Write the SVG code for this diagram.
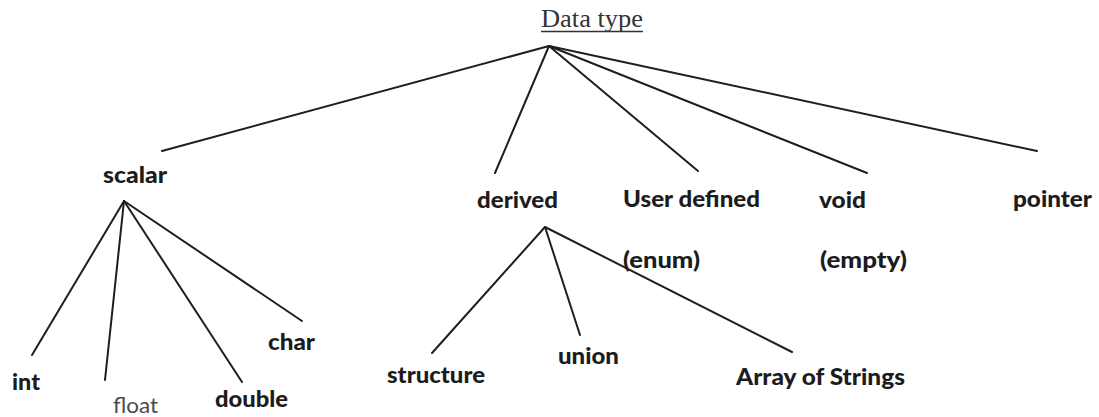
<svg xmlns="http://www.w3.org/2000/svg" width="1099" height="417" viewBox="0 0 1099 417">
  <style>
    .edge { stroke: #1e1e1e; stroke-width: 2; stroke-linecap: round; fill: none; }
    .lbl { font-family: Lato, "Open Sans", sans-serif; font-weight: 900; font-size: 23px; fill: #1c1c1c; }
    .thin { font-family: Lato, "Open Sans", sans-serif; font-weight: normal; font-size: 22px; fill: #4a4a4a; }
    .title { font-family: "Liberation Serif", serif; font-size: 26px; fill: #333333; }
  </style>
  <rect width="1099" height="417" fill="#ffffff"/>

  <!-- tree edges -->
  <g id="connectors">
    <line class="edge" x1="549" y1="46" x2="162" y2="151"/>
    <line class="edge" x1="549" y1="46" x2="495" y2="173"/>
    <line class="edge" x1="549" y1="46" x2="698" y2="171"/>
    <line class="edge" x1="549" y1="46" x2="867" y2="173"/>
    <line class="edge" x1="549" y1="46" x2="1037" y2="151"/>

    <line class="edge" x1="124" y1="201" x2="32" y2="355"/>
    <line class="edge" x1="124" y1="201" x2="105" y2="380"/>
    <line class="edge" x1="124" y1="201" x2="242" y2="382"/>
    <line class="edge" x1="124" y1="201" x2="302" y2="321"/>

    <line class="edge" x1="545" y1="227" x2="432" y2="353"/>
    <line class="edge" x1="545" y1="227" x2="580" y2="335"/>
    <line class="edge" x1="545" y1="227" x2="792" y2="352"/>
  </g>

  <g id="root">
    <text class="title" x="541" y="27" textLength="102" lengthAdjust="spacingAndGlyphs">Data type</text>
    <line x1="541" y1="31.5" x2="643" y2="31.5" stroke="#333333" stroke-width="1.5"/>
  </g>

  <g id="scalar"><text class="lbl" x="103" y="183" textLength="64" lengthAdjust="spacingAndGlyphs">scalar</text></g>
  <g id="derived"><text class="lbl" x="477" y="208" textLength="81" lengthAdjust="spacingAndGlyphs">derived</text></g>
  <g id="user-defined">
    <text class="lbl" x="623" y="207" textLength="137" lengthAdjust="spacingAndGlyphs">User defined</text>
    <text class="lbl" x="623" y="268" textLength="77" lengthAdjust="spacingAndGlyphs">(enum)</text>
  </g>
  <g id="void">
    <text class="lbl" x="819" y="208" textLength="47" lengthAdjust="spacingAndGlyphs">void</text>
    <text class="lbl" x="820" y="268" textLength="87" lengthAdjust="spacingAndGlyphs">(empty)</text>
  </g>
  <g id="pointer"><text class="lbl" x="1013" y="207" textLength="79" lengthAdjust="spacingAndGlyphs">pointer</text></g>

  <g id="int"><text class="lbl" x="12" y="390" textLength="28" lengthAdjust="spacingAndGlyphs">int</text></g>
  <g id="float"><text class="thin" x="113" y="413" textLength="45" lengthAdjust="spacingAndGlyphs">float</text></g>
  <g id="double"><text class="lbl" x="215" y="407" textLength="73" lengthAdjust="spacingAndGlyphs">double</text></g>
  <g id="char"><text class="lbl" x="268" y="350" textLength="47" lengthAdjust="spacingAndGlyphs">char</text></g>

  <g id="structure"><text class="lbl" x="387" y="383" textLength="98" lengthAdjust="spacingAndGlyphs">structure</text></g>
  <g id="union"><text class="lbl" x="558" y="364" textLength="61" lengthAdjust="spacingAndGlyphs">union</text></g>
  <g id="array-of-strings"><text class="lbl" x="736" y="385" textLength="169" lengthAdjust="spacingAndGlyphs">Array of Strings</text></g>
</svg>
